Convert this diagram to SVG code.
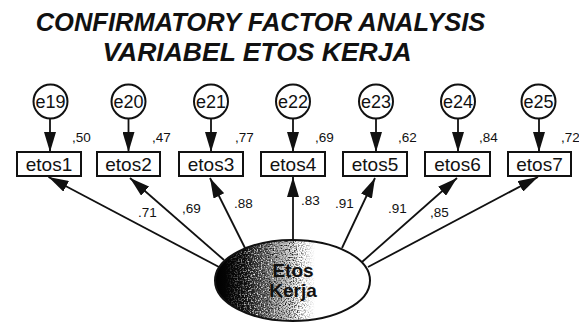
<svg xmlns="http://www.w3.org/2000/svg" width="579" height="322" viewBox="0 0 579 322">
  <style>
    .title { font-family: "Liberation Sans", Arial, sans-serif; font-weight: bold; font-style: italic; fill: #111; text-anchor: middle; }
    .err circle { fill: #fff; stroke: #111; stroke-width: 2; }
    .err text { font-family: "Liberation Sans", Arial, sans-serif; font-size: 18px; fill: #111; text-anchor: middle; }
    .obs rect { fill: #fff; stroke: #111; stroke-width: 2; }
    .obs text { font-family: "Liberation Sans", Arial, sans-serif; font-size: 19px; fill: #111; text-anchor: middle; }
    .coef { font-family: "Liberation Sans", Arial, sans-serif; font-size: 13.5px; fill: #111; }
    .edge { stroke: #111; stroke-width: 1.8; fill: none; marker-end: url(#head); }
    .latent text { font-family: "Liberation Sans", Arial, sans-serif; font-size: 19px; font-weight: bold; fill: #111; text-anchor: middle; }
  </style>
  <defs>
    <marker id="head" markerUnits="userSpaceOnUse" markerWidth="20" markerHeight="12" refX="20" refY="6" orient="auto">
      <path d="M0,0 L20,6 L0,12 z" fill="#111"/>
    </marker>
    <linearGradient id="shade" x1="0" y1="0.5" x2="1" y2="0.5">
      <stop offset="0" stop-color="#000"/>
      <stop offset="0.2" stop-color="#0c0c0c"/>
      <stop offset="0.33" stop-color="#5a5a5a"/>
      <stop offset="0.45" stop-color="#c8c8c8"/>
      <stop offset="0.55" stop-color="#fff"/>
    </linearGradient>
    <clipPath id="factorClip">
      <ellipse cx="292.5" cy="280.5" rx="77.5" ry="40.5"/>
    </clipPath>
    <!-- speckle noise for the shaded factor -->
    <filter id="speckDark" x="0" y="0" width="1" height="1">
      <feTurbulence type="fractalNoise" baseFrequency="0.75" numOctaves="1" seed="7"/>
      <feColorMatrix type="matrix" values="0 0 0 0 0  0 0 0 0 0  0 0 0 0 0  3.2 0 0 0 -1.45"/>
    </filter>
    <filter id="speckLight" x="0" y="0" width="1" height="1">
      <feTurbulence type="fractalNoise" baseFrequency="0.7" numOctaves="1" seed="19"/>
      <feColorMatrix type="matrix" values="0 0 0 0 1  0 0 0 0 1  0 0 0 0 1  3.2 0 0 0 -1.5"/>
    </filter>
    <linearGradient id="bandDarkG" gradientUnits="userSpaceOnUse" x1="245" y1="0" x2="315" y2="0">
      <stop offset="0" stop-color="#000"/>
      <stop offset="0.35" stop-color="#fff"/>
      <stop offset="0.7" stop-color="#fff"/>
      <stop offset="1" stop-color="#000"/>
    </linearGradient>
    <linearGradient id="bandLightG" gradientUnits="userSpaceOnUse" x1="225" y1="0" x2="290" y2="0">
      <stop offset="0" stop-color="#000"/>
      <stop offset="0.4" stop-color="#fff"/>
      <stop offset="0.75" stop-color="#fff"/>
      <stop offset="1" stop-color="#000"/>
    </linearGradient>
    <mask id="bandDark" maskUnits="userSpaceOnUse" x="210" y="235" width="165" height="90">
      <rect x="210" y="235" width="165" height="90" fill="url(#bandDarkG)"/>
    </mask>
    <mask id="bandLight" maskUnits="userSpaceOnUse" x="210" y="235" width="165" height="90">
      <rect x="210" y="235" width="165" height="90" fill="url(#bandLightG)"/>
    </mask>
  </defs>

  <rect width="579" height="322" fill="#fff"/>

  <!-- heading -->
  <text class="title" x="260.5" y="31" font-size="25.5">CONFIRMATORY FACTOR ANALYSIS</text>
  <text class="title" x="257" y="61" font-size="26.5">VARIABEL ETOS KERJA</text>

  <!-- connectors -->
  <g id="connectors">
    <!-- error terms to indicators -->
    <line class="edge" x1="50" y1="118" x2="50" y2="152"/>
    <line class="edge" x1="128.5" y1="118" x2="128.5" y2="152"/>
    <line class="edge" x1="211" y1="118" x2="211" y2="152"/>
    <line class="edge" x1="293" y1="118" x2="293" y2="152"/>
    <line class="edge" x1="376" y1="118" x2="376" y2="152"/>
    <line class="edge" x1="458" y1="118" x2="458" y2="152"/>
    <line class="edge" x1="539" y1="118" x2="539" y2="152"/>
    <!-- factor to indicators -->
    <line class="edge" x1="219" y1="267" x2="48.5" y2="177"/>
    <line class="edge" x1="224" y1="260" x2="130" y2="178"/>
    <line class="edge" x1="245" y1="248" x2="210" y2="178"/>
    <line class="edge" x1="293" y1="240" x2="293" y2="177"/>
    <line class="edge" x1="342" y1="248" x2="375" y2="178"/>
    <line class="edge" x1="362" y1="262" x2="457" y2="178"/>
    <line class="edge" x1="368" y1="267" x2="538" y2="177"/>
  </g>

  <!-- squared multiple correlations -->
  <text class="coef" x="72" y="142">,50</text>
  <text class="coef" x="152" y="142">,47</text>
  <text class="coef" x="235" y="142">,77</text>
  <text class="coef" x="315" y="142">,69</text>
  <text class="coef" x="398" y="142">,62</text>
  <text class="coef" x="479" y="142">,84</text>
  <text class="coef" x="561" y="142">,72</text>

  <!-- standardized loadings -->
  <text class="coef" x="138" y="216.5">.71</text>
  <text class="coef" x="182" y="213">,69</text>
  <text class="coef" x="234" y="208">.88</text>
  <text class="coef" x="301" y="205">.83</text>
  <text class="coef" x="335" y="208">.91</text>
  <text class="coef" x="388" y="213">.91</text>
  <text class="coef" x="430" y="216.5">,85</text>

  <!-- error terms -->
  <g id="e19" class="err"><circle cx="50.5" cy="101.5" r="17"/><text x="50.5" y="108">e19</text></g>
  <g id="e20" class="err"><circle cx="128.5" cy="101.5" r="17"/><text x="128.5" y="108">e20</text></g>
  <g id="e21" class="err"><circle cx="211" cy="101.5" r="17"/><text x="211" y="108">e21</text></g>
  <g id="e22" class="err"><circle cx="293" cy="101.5" r="17"/><text x="293" y="108">e22</text></g>
  <g id="e23" class="err"><circle cx="376" cy="101.5" r="17"/><text x="376" y="108">e23</text></g>
  <g id="e24" class="err"><circle cx="458" cy="101.5" r="17"/><text x="458" y="108">e24</text></g>
  <g id="e25" class="err"><circle cx="538.5" cy="101.5" r="17"/><text x="538.5" y="108">e25</text></g>

  <!-- observed indicators -->
  <g id="etos1" class="obs"><rect x="17" y="152" width="64" height="24"/><text x="49" y="171">etos1</text></g>
  <g id="etos2" class="obs"><rect x="97" y="152" width="63" height="24"/><text x="128.5" y="171">etos2</text></g>
  <g id="etos3" class="obs"><rect x="179" y="152" width="64" height="24"/><text x="211" y="171">etos3</text></g>
  <g id="etos4" class="obs"><rect x="261" y="152" width="64" height="24"/><text x="293" y="171">etos4</text></g>
  <g id="etos5" class="obs"><rect x="343" y="152" width="64" height="24"/><text x="375" y="171">etos5</text></g>
  <g id="etos6" class="obs"><rect x="425" y="152" width="65" height="24"/><text x="457.5" y="171">etos6</text></g>
  <g id="etos7" class="obs"><rect x="508" y="152" width="63" height="24"/><text x="539.5" y="171">etos7</text></g>

  <!-- latent factor -->
  <g id="etos-kerja" class="latent">
    <ellipse cx="292.5" cy="280.5" rx="77.5" ry="40.5" fill="url(#shade)"/>
    <g clip-path="url(#factorClip)">
      <rect x="212" y="238" width="160" height="86" fill="#000" filter="url(#speckDark)" mask="url(#bandDark)"/>
      <rect x="212" y="238" width="160" height="86" fill="#fff" filter="url(#speckLight)" mask="url(#bandLight)"/>
    </g>
    <ellipse cx="292.5" cy="280.5" rx="77.5" ry="40.5" fill="none" stroke="#111" stroke-width="2"/>
    <text x="293" y="277">Etos</text>
    <text x="293" y="297">Kerja</text>
  </g>
</svg>
